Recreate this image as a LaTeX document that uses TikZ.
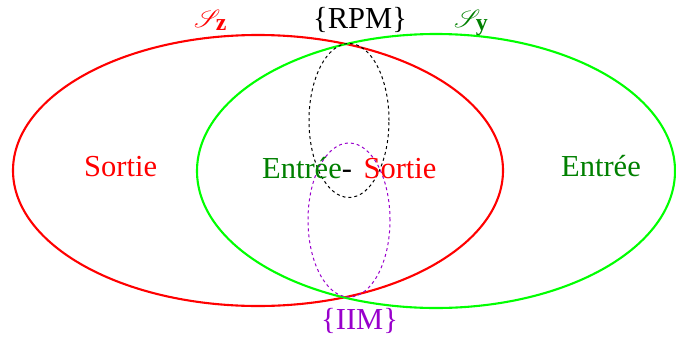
\documentclass[tikz,border=0pt]{standalone}
\usepackage{mathrsfs}
\usepackage{fontspec}
\setmainfont{Liberation Serif}
\definecolor{dkgreen}{RGB}{0,128,0}
\definecolor{lgreen}{RGB}{0,255,0}
\definecolor{purp}{RGB}{153,0,204}
\begin{document}
\begin{tikzpicture}[x=1pt,y=-1pt,
  lbl/.style={inner sep=0pt,anchor=base west,font=\fontsize{30.5}{33}\selectfont},
  setlbl/.style={inner sep=0pt,anchor=base west,font=\fontsize{34}{36}\selectfont},
  setline/.style={line width=2.1pt},
  dashline/.style={line width=1pt,dash pattern=on 3pt off 3pt}]
\useasboundingbox (0,0) rectangle (676,343);
% sets
\draw[setline,red] (258,170.5) ellipse [x radius=245pt,y radius=135.5pt];
\draw[setline,lgreen] (436,171) ellipse [x radius=239pt,y radius=137pt];
\draw[dashline,black] (349,120.5) ellipse [x radius=40pt,y radius=77pt];
\draw[dashline,purp] (349,220) ellipse [x radius=41pt,y radius=77pt];
% labels
\node[lbl,red] (sortie) at (84,176) {Sortie};
\node[lbl,dkgreen] (entree) at (561,176) {Entrée};
\node[lbl] (es) at (262,178) {\textcolor{dkgreen}{Entrée}-\hspace{4pt} \textcolor{red}{Sortie}};
\node[lbl] (rpm) at (313,28) {\{RPM\}};
\node[lbl,purp] (iim) at (321,329) {\{IIM\}};
\node[setlbl,red] (sz) at (194,27) {$\mathscr{S}_{\mathbf{z}}$};
\node[setlbl,dkgreen] (sy) at (454,27) {$\mathscr{S}_{\mathbf{y}}$};
\end{tikzpicture}
\end{document}
